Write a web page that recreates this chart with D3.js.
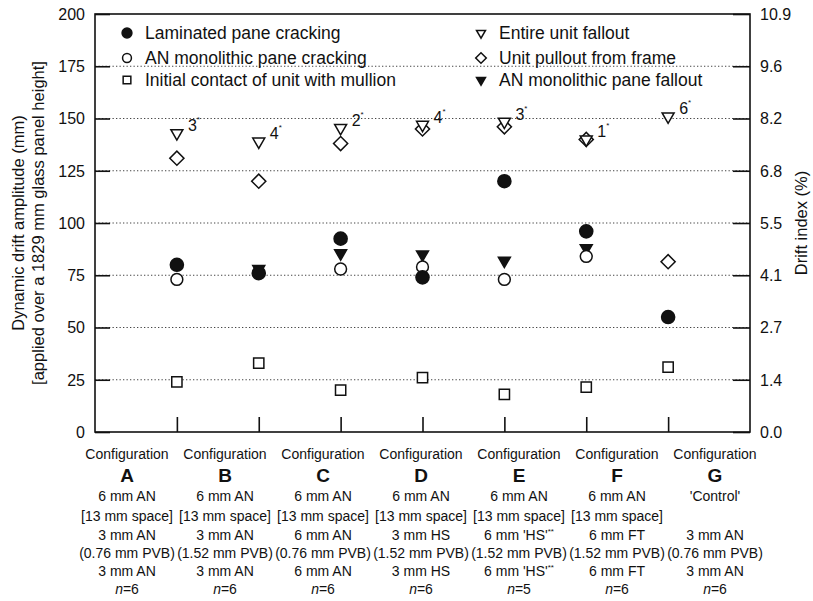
<!DOCTYPE html>
<html>
<head>
<meta charset="utf-8">
<script src="https://cdn.jsdelivr.net/npm/d3@7"></script>
<style>
  body { margin: 0; background: #fff; }
  text { font-family: "Liberation Sans", Arial, sans-serif; fill: #111; }
</style>
</head>
<body>
<div id="chart"></div>
<script>
// categories (x positions 1..7)
const configs = ["A", "B", "C", "D", "E", "F", "G"];

// dynamic drift amplitude (mm), null where no point is drawn
const laminatedCracking = [80, 76, 92.5, 74, 120, 96, 55];
const anCracking = [73, null, 78, 79, 73, 84, null];
const initialContact = [24, 33, 20, 26, 18, 21.5, 31];
const entireFallout = [143, 139, 145.5, 147, 148.5, 140, 151];
const unitPullout = [131, 120, 138, 145, 146, 140, 81.5];
const anFallout = [null, 78, 85.5, 85, 82, 88, null];

// number of specimens for the fallout label
const falloutCount = ["3", "4", "2", "4", "3", "1", "6"];

const leftTicks = [0, 25, 50, 75, 100, 125, 150, 175, 200];
const panelHeight = 1829;

// text under each configuration
const configRows = [
  ["6 mm AN", "[13 mm space]", "3 mm AN", "(0.76 mm PVB)", "3 mm AN", "6"],
  ["6 mm AN", "[13 mm space]", "3 mm AN", "(1.52 mm PVB)", "3 mm AN", "6"],
  ["6 mm AN", "[13 mm space]", "6 mm AN", "(0.76 mm PVB)", "6 mm AN", "6"],
  ["6 mm AN", "[13 mm space]", "3 mm HS", "(1.52 mm PVB)", "3 mm HS", "6"],
  ["6 mm AN", "[13 mm space]", "6 mm 'HS'**", "(1.52 mm PVB)", "6 mm 'HS'**", "5"],
  ["6 mm AN", "[13 mm space]", "6 mm FT", "(1.52 mm PVB)", "6 mm FT", "6"],
  ["'Control'", "", "3 mm AN", "(0.76 mm PVB)", "3 mm AN", "6"],
];

const width = 813;
const height = 601;
const plot = { left: 95, right: 750, top: 14, bottom: 432 };

const svg = d3
  .select("#chart")
  .append("svg")
  .attr("width", width)
  .attr("height", height);

svg.append("rect").attr("width", width).attr("height", height).attr("fill", "#fff");

const x = d3.scaleLinear().domain([0, 8]).range([plot.left, plot.right]);
const y = d3.scaleLinear().domain([0, 200]).range([plot.bottom, plot.top]);
// labels under the axis sit on their own, wider spacing
const xLabel = d3.scalePoint().domain(configs).range([127, 715]);

// dotted gridlines
svg
  .append("g")
  .selectAll("line")
  .data(leftTicks.filter((d) => d > 0 && d < 200))
  .join("line")
  .attr("x1", plot.left)
  .attr("x2", plot.right)
  .attr("y1", (d) => y(d))
  .attr("y2", (d) => y(d))
  .attr("stroke", "#444")
  .attr("stroke-width", 1.2)
  .attr("stroke-dasharray", "1.3,2.2");

// axes, ticks pointing inwards
const leftAxis = d3.axisRight(y).tickValues(leftTicks).tickSize(15).tickFormat("");
const rightAxis = d3.axisLeft(y).tickValues(leftTicks).tickSize(17).tickFormat("");
const bottomAxis = d3
  .axisTop(x)
  .tickValues(d3.range(1, 8))
  .tickSize(15)
  .tickFormat("");

[
  svg.append("g").attr("transform", `translate(${plot.left},0)`).call(leftAxis),
  svg.append("g").attr("transform", `translate(${plot.right},0)`).call(rightAxis),
  svg.append("g").attr("transform", `translate(0,${plot.bottom})`).call(bottomAxis),
].forEach((g) => {
  g.select(".domain").remove();
  g.selectAll("line").attr("stroke", "#111").attr("stroke-width", 1.6);
});

// frame
svg
  .append("rect")
  .attr("x", plot.left)
  .attr("y", plot.top)
  .attr("width", plot.right - plot.left)
  .attr("height", plot.bottom - plot.top)
  .attr("fill", "none")
  .attr("stroke", "#111")
  .attr("stroke-width", 1.6);

// tick labels
svg
  .append("g")
  .selectAll("text")
  .data(leftTicks)
  .join("text")
  .attr("x", plot.left - 10)
  .attr("y", (d) => y(d))
  .attr("dy", "0.36em")
  .attr("text-anchor", "end")
  .attr("font-size", 16)
  .text((d) => d);

svg
  .append("g")
  .selectAll("text")
  .data(leftTicks)
  .join("text")
  .attr("x", plot.right + 10)
  .attr("y", (d) => y(d))
  .attr("dy", "0.36em")
  .attr("font-size", 16)
  .text((d) => ((d / panelHeight) * 100).toFixed(1));

// axis titles
const cy = (plot.top + plot.bottom) / 2;
svg
  .append("text")
  .attr("transform", `translate(18,${cy}) rotate(-90)`)
  .attr("text-anchor", "middle")
  .attr("dy", "0.35em")
  .attr("font-size", 16.5)
  .text("Dynamic drift amplitude (mm)");
svg
  .append("text")
  .attr("transform", `translate(38,${cy}) rotate(-90)`)
  .attr("text-anchor", "middle")
  .attr("dy", "0.35em")
  .attr("font-size", 16.5)
  .text("[applied over a 1829 mm glass panel height]");
svg
  .append("text")
  .attr("transform", `translate(801,${cy}) rotate(-90)`)
  .attr("text-anchor", "middle")
  .attr("dy", "0.35em")
  .attr("font-size", 16.5)
  .text("Drift index (%)");

// marker shapes
const shapes = {
  filledCircle: { path: d3.symbol(d3.symbolCircle, 135)(), fill: "#111", rotate: 0 },
  openCircle: { path: d3.symbol(d3.symbolCircle, 110)(), fill: "#fff", rotate: 0 },
  square: { path: d3.symbol(d3.symbolSquare, 105)(), fill: "#fff", rotate: 0 },
  openTriangle: { path: d3.symbol(d3.symbolTriangle, 62)(), fill: "#fff", rotate: 180 },
  diamond: { path: d3.symbol(d3.symbolSquare, 100)(), fill: "#fff", rotate: 45 },
  filledTriangle: { path: d3.symbol(d3.symbolTriangle, 62)(), fill: "#111", rotate: 180 },
};

const series = [
  { name: "Initial contact of unit with mullion", values: initialContact, shape: "square" },
  { name: "Unit pullout from frame", values: unitPullout, shape: "diamond" },
  { name: "Entire unit fallout", values: entireFallout, shape: "openTriangle" },
  { name: "AN monolithic pane fallout", values: anFallout, shape: "filledTriangle" },
  { name: "AN monolithic pane cracking", values: anCracking, shape: "openCircle" },
  { name: "Laminated pane cracking", values: laminatedCracking, shape: "filledCircle" },
];

function drawMarker(g, shape, cx, cyy, scale) {
  const s = shapes[shape];
  g.append("path")
    .attr("d", s.path)
    .attr(
      "transform",
      `translate(${cx},${cyy}) rotate(${s.rotate}) scale(${scale || 1})`
    )
    .attr("fill", s.fill)
    .attr("stroke", "#111")
    .attr("stroke-width", 1.5 / (scale || 1));
}

const marks = svg.append("g");
series.forEach((s) => {
  s.values.forEach((v, i) => {
    if (v == null) return;
    drawMarker(marks, s.shape, x(i + 1), y(v));
  });
});

// fallout counts with asterisk
const countLabels = svg
  .append("g")
  .selectAll("text")
  .data(falloutCount)
  .join("text")
  .attr("x", (d, i) => x(i + 1) + 11)
  .attr("y", (d, i) => y(Math.max(entireFallout[i], unitPullout[i])) - 2)
  .attr("font-size", 16);
countLabels.append("tspan").text((d) => d);
countLabels
  .append("tspan")
  .attr("font-size", 8)
  .attr("dy", -9)
  .text("*");

// legend
const legendLeft = [
  { name: "Laminated pane cracking", shape: "filledCircle" },
  { name: "AN monolithic pane cracking", shape: "openCircle" },
  { name: "Initial contact of unit with mullion", shape: "square" },
];
const legendRight = [
  { name: "Entire unit fallout", shape: "openTriangle" },
  { name: "Unit pullout from frame", shape: "diamond" },
  { name: "AN monolithic pane fallout", shape: "filledTriangle" },
];
const legendRows = [33, 58, 80];
const legend = svg.append("g");
[
  [legendLeft, 127],
  [legendRight, 481],
].forEach(([items, lx]) => {
  items.forEach((d, i) => {
    drawMarker(legend, d.shape, lx, legendRows[i], 0.75);
    legend
      .append("text")
      .attr("x", lx + 18)
      .attr("y", legendRows[i])
      .attr("dy", "0.36em")
      .attr("font-size", 17.5)
      .text(d.name);
  });
});

// configuration descriptions under the axis
const rowY = [496, 516, 535, 553, 571, 589];
const labels = svg
  .append("g")
  .selectAll("g")
  .data(configs)
  .join("g")
  .attr("transform", (d) => `translate(${xLabel(d)},0)`);

labels
  .append("text")
  .attr("y", 454)
  .attr("dy", "0.36em")
  .attr("text-anchor", "middle")
  .attr("font-size", 14)
  .text("Configuration");

labels
  .append("text")
  .attr("y", 475)
  .attr("dy", "0.36em")
  .attr("text-anchor", "middle")
  .attr("font-size", 19)
  .attr("font-weight", "bold")
  .text((d) => d);

labels.each(function (d, i) {
  const g = d3.select(this);
  configRows[i].forEach((line, j) => {
    const t = g
      .append("text")
      .attr("y", rowY[j])
      .attr("dy", "0.36em")
      .attr("text-anchor", "middle")
      .attr("font-size", 14);
    if (j === 5) {
      t.append("tspan").attr("font-style", "italic").text("n");
      t.append("tspan").text("=" + line);
    } else if (line.endsWith("**")) {
      t.append("tspan").text(line.slice(0, -2));
      t.append("tspan").attr("font-size", 8).attr("dy", -6).text("**");
    } else {
      t.text(line);
    }
  });
});
</script>
</body>
</html>
